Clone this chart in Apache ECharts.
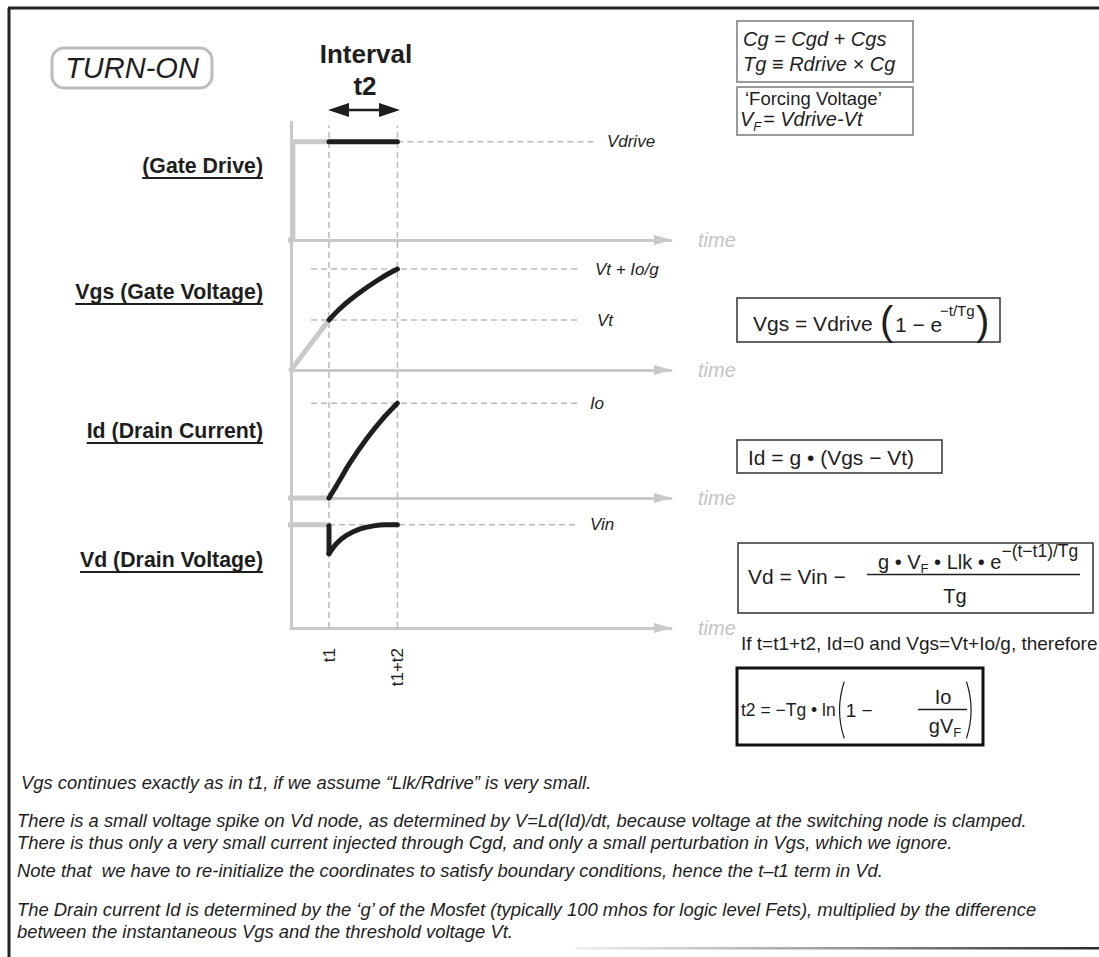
<!DOCTYPE html>
<html><head><meta charset="utf-8">
<script src="https://cdn.jsdelivr.net/npm/echarts@6/dist/echarts.min.js"></script>
<style>html,body{margin:0;padding:0;background:#fff}#c{width:1099px;height:957px}</style>
</head><body><div id="c"></div>
<script>
// ---------- data ----------
const t1 = 1.0;            // start of interval t2
const t12 = 2.8;           // t1 + t2
const tickNames = ['t1', 't1+t2'];
const panelTitles = ['(Gate Drive)', 'Vgs (Gate Voltage)', 'Id (Drain Current)', 'Vd (Drain Voltage)'];
const levelNames = ['Vdrive', 'Vt + Io/g', 'Vt', 'Io', 'Vin'];
// Gate drive
const gateGray = [[-0.55, 0], [0.05, 0], [0.05, 1], [1, 1]];
const gateBlack = [[1, 1], [2.8, 1]];
const lvlVdrive = [[2.8, 1], [8.05, 1]];
// Vgs
const vgsGray = [[0, 0], [1, 0.5]];
const vgsBlack = [[1, 0.5], [1.25, 0.6], [1.55, 0.7], [1.9, 0.8], [2.25, 0.89], [2.55, 0.96], [2.8, 1.01]];
const lvlVtIo = [[0.53, 1.01], [7.55, 1.01]];
const lvlVt = [[0.53, 0.5], [7.55, 0.5]];
// Id
const idGray = [[-0.05, 0], [1, 0]];
const idBlack = [[1, 0], [1.3, 0.2], [1.55, 0.37], [2.0, 0.63], [2.4, 0.83], [2.8, 1.0]];
const lvlIo = [[0.53, 1], [7.55, 1]];
// Vd
const vdGray = [[-0.05, 1], [1, 1]];
const vdDrop = [[1, 0.99], [1, 0.72]];
const vdRecover = [[1, 0.72], [1.2, 0.82], [1.47, 0.9], [1.82, 0.96], [2.17, 0.99], [2.5, 1.0], [2.8, 1.0]];
const lvlVin = [[1, 1], [7.55, 1]];
// panel y ranges
const yMax = [1.2, 1.3, 1.35, 1.26];

// ---------- styles ----------
const F = '"Liberation Sans", Arial, Helvetica, sans-serif';
const AX = '#c9c9c9';
const BLK = '#1e1e1e';
const DASH = {color: '#b9b9b9', width: 1.5, type: [6, 4]};

const ctx = document.createElement('canvas').getContext('2d');
function W(s, size, st, wt) { ctx.font = `${st||'normal'} ${wt||'normal'} ${size}px ${F}`; return ctx.measureText(s).width; }
function T(x, y, s, size, o) {
  o = o || {};
  return {type: 'text', x: x, y: y, z: 20,
    style: {text: s, font: `${o.st||'normal'} ${o.wt||'normal'} ${size}px ${F}`, fill: o.fill || '#1e1e1e',
      textAlign: o.align || 'left', textVerticalAlign: 'middle', align: o.align || 'left', verticalAlign: 'middle'}};
}
function R(x, y, w, h, stroke, lw, r) {
  return {type: 'rect', z: 15, shape: {x: x, y: y, width: w, height: h, r: r || 0}, style: {fill: 'none', stroke: stroke, lineWidth: lw}};
}
function L(x1, y1, x2, y2, stroke, lw) {
  return {type: 'line', z: 15, shape: {x1: x1, y1: y1, x2: x2, y2: y2}, style: {stroke: stroke, lineWidth: lw}};
}
function ARC(cx, cy, r, a0, a1, lw) {
  return {type: 'arc', z: 15, shape: {cx: cx, cy: cy, r: r, startAngle: a0, endAngle: a1, clockwise: true}, style: {fill: 'none', stroke: '#1e1e1e', lineWidth: lw}};
}

// ---------- axes ----------
const xAxis = [], yAxis = [];
for (let i = 0; i < 4; i++) {
  xAxis.push({type: 'value', gridIndex: i, min: 0, max: 10,
    axisLine: {show: true, onZero: false, symbol: ['none', 'triangle'], symbolSize: [10, 18], symbolOffset: [0, -8], lineStyle: {color: AX, width: 3}},
    axisTick: {show: false}, axisLabel: {show: false}, splitLine: {show: false},
    name: 'time', nameLocation: 'end', nameGap: 27,
    nameTextStyle: {fontStyle: 'italic', fontSize: 20, color: '#c4c4c4', fontFamily: F, padding: [10, 0, 0, 0]}});
  yAxis.push({type: 'value', gridIndex: i, min: 0, max: yMax[i],
    axisLine: {show: true, onZero: false, lineStyle: {color: AX, width: 3}},
    axisTick: {show: false}, axisLabel: {show: false}, splitLine: {show: false}});
}
xAxis.push({type: 'value', gridIndex: 4, min: 0, max: 10, interval: 0.2,
  axisLine: {show: false}, axisTick: {show: false}, splitLine: {show: false},
  axisLabel: {rotate: 90, margin: 20, fontSize: 17, color: '#1e1e1e', fontFamily: F,
    formatter: v => Math.abs(v - t1) < 1e-6 ? tickNames[0] : (Math.abs(v - t12) < 1e-6 ? tickNames[1] : '')}});
yAxis.push({type: 'value', gridIndex: 4, min: 0, max: 1, show: false});

// ---------- series ----------
function S(gi, data, color, width, z, extra) {
  return Object.assign({type: 'line', xAxisIndex: gi, yAxisIndex: gi, data: data, showSymbol: false, symbol: 'none',
    silent: true, clip: false, z: z,
    lineStyle: {color: color, width: width, cap: 'round', join: 'round'}}, extra || {});
}
function LV(gi, data, name, dist) {
  return {type: 'line', xAxisIndex: gi, yAxisIndex: gi, data: data, showSymbol: false, symbol: 'none', silent: true, z: 1,
    lineStyle: DASH,
    endLabel: {show: true, formatter: name, distance: dist, color: '#1e1e1e', fontStyle: 'italic', fontSize: 17, fontFamily: F}};
}
function smooth(s) { s.smooth = 0.35; return s; }
const series = [
  Object.assign(S(4, [[t1, 0], [t1, 0.993]], '', 0, 1), {lineStyle: DASH}),
  Object.assign(S(4, [[t12, 0], [t12, 0.993]], '', 0, 1), {lineStyle: DASH}),
  LV(0, lvlVdrive, levelNames[0], 10),
  LV(1, lvlVtIo, levelNames[1], 17),
  LV(1, lvlVt, levelNames[2], 19),
  LV(2, lvlIo, levelNames[3], 12),
  LV(3, lvlVin, levelNames[4], 12),
  S(0, gateGray, AX, 5, 3),
  S(0, gateBlack, BLK, 5, 4),
  S(1, vgsGray, AX, 5, 3),
  smooth(S(1, vgsBlack, BLK, 5, 4)),
  S(2, idGray, AX, 5, 3),
  smooth(S(2, idBlack, BLK, 5, 4)),
  S(3, vdGray, AX, 5, 3),
  S(3, vdDrop, BLK, 5, 4),
  smooth(S(3, vdRecover, BLK, 5, 4))
];

// ---------- annotations ----------
const G = [];
// frame
G.push(L(8, 8, 1099, 8, '#222', 3));
G.push(L(9, 8, 9, 957, '#222', 3));
G.push({type: 'rect', z: 15, shape: {x: 575, y: 947, width: 524, height: 2.5},
  style: {fill: new echarts.graphic.LinearGradient(0, 0, 1, 0, [{offset: 0, color: '#f0f0f0'}, {offset: 0.5, color: '#9a9a9a'}, {offset: 1, color: '#2a2a2a'}])}});
// TURN-ON
G.push(R(52, 48, 160, 40, '#bdbdbd', 3, 12));
G.push(T(132, 68, 'TURN-ON', 29, {st: 'italic', align: 'center'}));
// Interval t2
G.push(T(366, 54, 'Interval', 26, {wt: 'bold', align: 'center'}));
G.push(T(365, 86, 't2', 26, {wt: 'bold', align: 'center'}));
G.push({type: 'polygon', z: 15, shape: {points: [[328, 110], [349, 103], [349, 108.8], [379, 108.8], [379, 103], [400, 110], [379, 117], [379, 111.2], [349, 111.2], [349, 117]]}, style: {fill: '#1e1e1e'}});
// panel titles
const titleY = [166, 292, 431, 560];
panelTitles.forEach((s, i) => {
  const w = W(s, 21.3, 'normal', 'bold');
  G.push(T(263, titleY[i], s, 21.3, {wt: 'bold', align: 'right'}));
  G.push(L(263 - w, titleY[i] + 12, 263, titleY[i] + 12, '#1e1e1e', 2));
});
// box 1
G.push(R(737, 21, 176, 61, '#9a9a9a', 2));
G.push(T(743, 39, 'Cg = Cgd + Cgs', 20, {st: 'italic'}));
G.push(T(743, 64, 'Tg \u2261 Rdrive \u00d7 Cg', 20, {st: 'italic'}));
// box 2
G.push(R(737, 87, 176, 48, '#9a9a9a', 2));
G.push(T(745, 98.5, '\u2018Forcing Voltage\u2019', 18.5));
G.push(T(740, 119, 'V', 20, {st: 'italic'}));
G.push(T(740 + W('V', 20, 'italic'), 126, 'F', 13, {st: 'italic'}));
G.push(T(763, 119, '= Vdrive-Vt', 20, {st: 'italic'}));
// box 3: Vgs
G.push(R(737, 298, 263, 44, '#333', 1.5));
G.push(T(753, 323, 'Vgs = Vdrive', 21));
G.push(T(880, 321, '(', 40));
G.push(T(895, 324, '1 \u2212 e', 21));
G.push(T(940, 310, '\u2212t/Tg', 15));
G.push(T(976, 321, ')', 40));
// box 4: Id
G.push(R(737, 440, 205, 33, '#333', 1.5));
G.push(T(748, 457, 'Id = g \u2022 (Vgs \u2212 Vt)', 21));
// box 5: Vd
G.push(R(738, 543, 355, 70, '#333', 1.5));
G.push(T(748, 576, 'Vd = Vin \u2212', 21));
(function () {
  let x = 878;
  G.push(T(x, 562, 'g \u2022 V', 20)); x += W('g \u2022 V', 20);
  G.push(T(x, 568, 'F', 13)); x += W('F', 13);
  G.push(T(x, 562, ' \u2022 Llk \u2022 e', 20)); x += W(' \u2022 Llk \u2022 e', 20);
  G.push(T(x, 551, '\u2212(t\u2212t1)/Tg', 17.5));
})();
G.push(L(867, 574.5, 1080, 574.5, '#1e1e1e', 1.3));
G.push(T(955, 596, 'Tg', 20, {align: 'center'}));
// condition text
G.push(T(741, 643, 'If t=t1+t2, Id=0 and Vgs=Vt+Io/g, therefore', 19));
// box 6: t2
G.push(R(737, 668, 246, 77, '#111', 3));
(function () {
  const s = 't2 = \u2212Tg \u2022 ln';
  G.push(T(741, 710, s, 17.5));
  const xp = 741 + W(s, 17.5) + 4;
  G.push(ARC(xp + 90, 710, 90, Math.PI - 0.32, Math.PI + 0.32, 1.2));
  G.push(T(xp + 6, 710, '1 \u2212', 19));
})();
G.push(T(943, 697, 'Io', 20, {align: 'center'}));
G.push(L(918, 709.5, 967, 709.5, '#1e1e1e', 1.3));
(function () {
  const w = W('gV', 20) + W('F', 13);
  let x = 945 - w / 2;
  G.push(T(x, 726, 'gV', 20)); x += W('gV', 20);
  G.push(T(x, 732, 'F', 13));
})();
G.push(ARC(971 - 90, 710, 90, -0.32, 0.32, 1.2));
// notes
const notes = [
  ['Vgs continues exactly as in t1, if we assume \u201cLlk/Rdrive\u201d is very small.', 21, 782],
  ['There is a small voltage spike on Vd node, as determined by V=Ld(Id)/dt, because voltage at the switching node is clamped.', 17, 820],
  ['There is thus only a very small current injected through Cgd, and only a small perturbation in Vgs, which we ignore.', 17, 842],
  ['Note that  we have to re-initialize the coordinates to satisfy boundary conditions, hence the t\u2013t1 term in Vd.', 17, 870],
  ['The Drain current Id is determined by the \u2018g\u2019 of the Mosfet (typically 100 mhos for logic level Fets), multiplied by the difference', 17, 909],
  ['between the instantaneous Vgs and the threshold voltage Vt.', 17, 931]
];
notes.forEach(n => G.push(T(n[1], n[2], n[0], 18.4, {st: 'italic'})));

const chart = echarts.init(document.getElementById('c'), null, {renderer: 'svg'});
chart.setOption({
  animation: false,
  backgroundColor: '#fff',
  grid: [
    {left: 291, width: 380, top: 122, height: 118},
    {left: 291, width: 380, top: 240, height: 130},
    {left: 291, width: 380, top: 370, height: 128},
    {left: 291, width: 380, top: 498, height: 130},
    {left: 291, width: 380, top: 122, height: 506}
  ],
  xAxis: xAxis,
  yAxis: yAxis,
  series: series,
  graphic: {elements: G}
});
</script></body></html>
